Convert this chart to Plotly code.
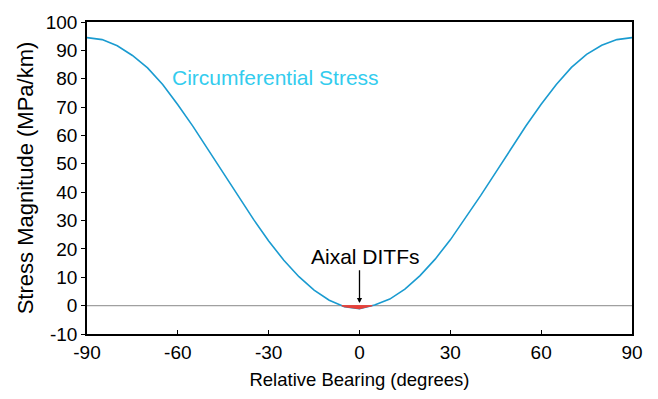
import plotly.graph_objects as go

# Relative bearing (degrees) and circumferential stress magnitude (MPa/km)
bearing = [-90, -85, -80, -75, -70, -65, -60, -55, -50, -45, -40, -35, -30, -25, -20,
           -15, -10, -5, 0, 5, 10, 15, 20, 25, 30, 35, 40, 45, 50, 55, 60, 65, 70,
           75, 80, 85, 90]
stress = [94.5, 93.8, 91.6, 88.2, 83.8, 78.0, 70.8, 63.2, 55.0, 46.8, 38.4, 30.4, 22.8,
          16.0, 10.2, 5.5, 1.9, -0.4, -1.1, 0.2, 2.3, 5.8, 10.6, 16.4, 23.2, 30.8,
          38.8, 47.0, 55.2, 63.4, 71.0, 78.0, 84.0, 88.6, 91.8, 93.8, 94.5]

x_ticks = [-90, -60, -30, 0, 30, 60, 90]
y_ticks = list(range(-10, 101, 10))

LINE = "#1a9bd0"
LABEL = "#33ccee"
FONT = "Liberation Sans, Arial, sans-serif"

# Region where the stress is tensile (below zero): polygon bounded by the curve and y=0
neg_x, neg_y = [], []
for i in range(len(bearing) - 1):
    x0, y0, x1, y1 = bearing[i], stress[i], bearing[i + 1], stress[i + 1]
    if y0 >= 0 > y1:
        xc = x0 + (x1 - x0) * y0 / (y0 - y1)
        neg_x.append(xc); neg_y.append(0)
    if y1 < 0:
        neg_x.append(x1); neg_y.append(y1)
    if y0 < 0 <= y1:
        xc = x0 + (x1 - x0) * (-y0) / (y1 - y0)
        neg_x.append(xc); neg_y.append(0)

fig = go.Figure()

# zero reference line
fig.add_trace(go.Scatter(x=[-90, 90], y=[0, 0], mode="lines",
                         line=dict(color="#a0a0a0", width=1.2),
                         hoverinfo="skip", showlegend=False))

fig.add_trace(go.Scatter(x=bearing, y=stress, mode="lines",
                         line=dict(color=LINE, width=1.6),
                         name="Circumferential Stress", showlegend=False))

fig.add_trace(go.Scatter(x=neg_x + [neg_x[0]], y=neg_y + [neg_y[0]], mode="lines",
                         fill="toself", fillcolor="#e8403a",
                         line=dict(color="#e8403a", width=1),
                         hoverinfo="skip", showlegend=False))

fig.add_annotation(x=-62.6, y=80.6, text="Circumferential Stress", showarrow=False,
                   xanchor="left", yanchor="middle",
                   font=dict(family=FONT, size=21, color=LABEL))

fig.add_annotation(x=0, y=0.9, ax=0, ay=13, axref="x", ayref="y",
                   text="", showarrow=True, arrowhead=2, arrowsize=0.8,
                   arrowwidth=1.3, arrowcolor="black")
fig.add_annotation(x=2.1, y=17.2, text="Aixal DITFs", showarrow=False,
                   xanchor="center", yanchor="middle",
                   font=dict(family=FONT, size=21, color="black"))

fig.update_layout(
    width=658, height=399,
    margin=dict(l=87, r=26, t=16, b=65),
    paper_bgcolor="white", plot_bgcolor="white",
    font=dict(family=FONT, size=19, color="black"),
    xaxis=dict(range=[-90, 90], tickvals=x_ticks, ticktext=[str(v) for v in x_ticks],
               showgrid=False, zeroline=False, showline=True, linecolor="black",
               linewidth=2, mirror=True, ticks="inside", ticklen=4, tickcolor="black",
               title=dict(text="Relative Bearing (degrees)", font=dict(size=18.5), standoff=11),
               tickfont=dict(size=19)),
    yaxis=dict(range=[-10, 100], tickvals=y_ticks, ticktext=[str(v) for v in y_ticks],
               showgrid=False, zeroline=False, showline=True, linecolor="black",
               linewidth=1.5, mirror=True, ticks="outside", ticklen=4, tickcolor="black",
               title=dict(text="Stress Magnitude (MPa/km)", font=dict(size=22), standoff=6),
               tickfont=dict(size=19)),
)

fig.write_html("out.html")
